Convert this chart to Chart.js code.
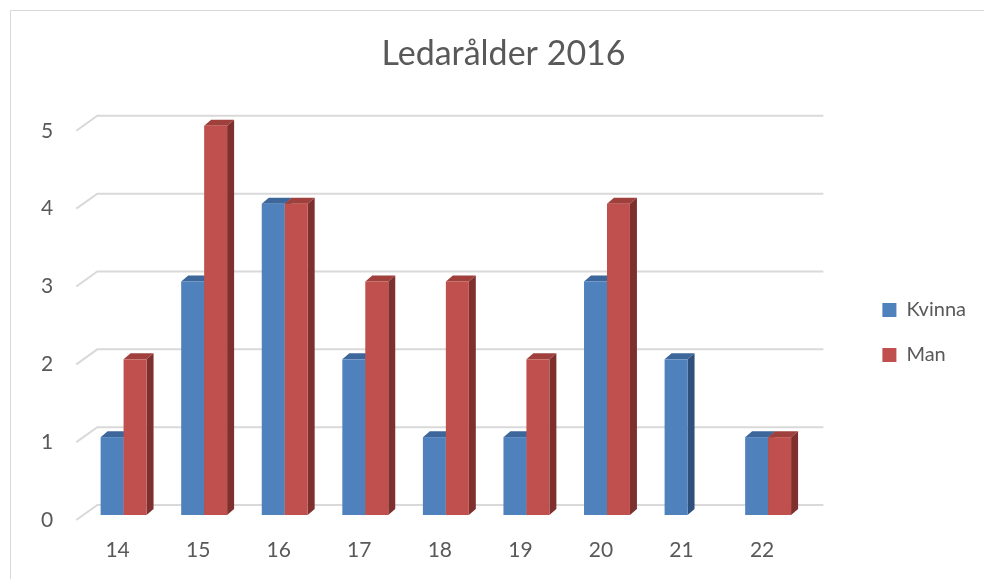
<!DOCTYPE html>
<html>
<head>
<meta charset="utf-8">
<script src="https://cdn.jsdelivr.net/npm/chart.js@4/dist/chart.umd.min.js"></script>
<style>
  html, body { margin: 0; padding: 0; background: #fff; }
</style>
</head>
<body>
<canvas id="chart" width="984" height="579"></canvas>
<script>
// data
const ages = ["14", "15", "16", "17", "18", "19", "20", "21", "22"];
const kvinna = [1, 3, 4, 2, 1, 1, 3, 2, 1];
const man = [2, 5, 4, 3, 3, 2, 4, null, 1];

// colors: front, top, side
const blue = ["#4f81bd", "#3d679b", "#2f507c"];
const red = ["#c0504d", "#a0403d", "#7e302e"];
const textColor = "#595959";
const font = "Lato, 'Open Sans', sans-serif";

// 3d offsets
const dx = 7, dy = -6;

function poly(ctx, pts) {
    ctx.beginPath();
    ctx.moveTo(pts[0][0], pts[0][1]);
    for (let k = 1; k < pts.length; k++) ctx.lineTo(pts[k][0], pts[k][1]);
    ctx.closePath();
    ctx.fill();
}

const threeD = {
    id: "threeD",
    beforeDraw(chart) {
        // outer frame like the excel chart box
        const ctx = chart.ctx;
        ctx.save();
        ctx.strokeStyle = "#d9d9d9";
        ctx.lineWidth = 1;
        ctx.strokeRect(10.5, 10.5, 1100, 1100);
        ctx.restore();
    },
    beforeDatasetsDraw(chart) {
        const ctx = chart.ctx;
        const area = chart.chartArea;
        const yScale = chart.scales.y;
        ctx.save();

        // back wall + side wall gridlines
        ctx.strokeStyle = "#d9d9d9";
        ctx.lineWidth = 2;
        yScale.ticks.forEach(t => {
            const py = yScale.getPixelForValue(t.value);
            ctx.beginPath();
            ctx.moveTo(area.left - 7, py + 5);
            ctx.lineTo(area.left + 14, py - 10);
            ctx.lineTo(area.right + 15, py - 10);
            ctx.stroke();
        });

        // bars, category by category so the faces overlap right
        const colors = [blue, red];
        for (let i = 0; i < ages.length; i++) {
            chart.data.datasets.forEach((ds, di) => {
                if (ds.data[i] == null) return;
                const bar = chart.getDatasetMeta(di).data[i];
                const p = bar.getProps(["x", "y", "base", "width"], true);
                const x0 = p.x - p.width / 2, x1 = p.x + p.width / 2;
                const c = colors[di];
                ctx.fillStyle = c[1];
                poly(ctx, [[x0, p.y], [x1, p.y], [x1 + dx, p.y + dy], [x0 + dx, p.y + dy]]);
                ctx.fillStyle = c[2];
                poly(ctx, [[x1, p.y], [x1 + dx, p.y + dy], [x1 + dx, p.base + dy], [x1, p.base]]);
                ctx.fillStyle = c[0];
                ctx.fillRect(x0, p.y, p.width, p.base - p.y);
            });
        }
        ctx.restore();
        return false;
    }
};

const ctx = document.getElementById("chart").getContext("2d");
new Chart(ctx, {
    type: "bar",
    data: {
        labels: ages,
        datasets: [
            { label: "Kvinna", data: kvinna, backgroundColor: blue[0], borderWidth: 0 },
            { label: "Man", data: man, backgroundColor: red[0], borderWidth: 0 },
        ],
    },
    options: {
        responsive: false,
        animation: false,
        devicePixelRatio: 1,
        categoryPercentage: 0.57,
        barPercentage: 1,
        layout: { padding: { left: 31, right: 8, top: 0, bottom: 0 } },
        plugins: {
            title: {
                display: true,
                text: "Ledarålder 2016",
                color: textColor,
                font: { family: font, size: 34, weight: "normal", lineHeight: 1.2 },
                padding: { top: 34, bottom: 51 },
            },
            legend: {
                position: "right",
                fullSize: false,
                title: { display: true, text: "", font: { size: 10, lineHeight: 1.2 }, padding: 6 },
                labels: {
                    color: textColor,
                    font: { family: font, size: 20 },
                    boxWidth: 14,
                    boxHeight: 14,
                    padding: 25,
                },
            },
            tooltip: { enabled: false },
        },
        scales: {
            x: {
                grid: { display: false, drawTicks: false },
                border: { display: false },
                ticks: {
                    color: textColor,
                    font: { family: font, size: 21 },
                    padding: 23,
                    labelOffset: -6,
                },
                afterFit: (s) => { s.height = 64; },
            },
            y: {
                min: 0,
                max: 5,
                grid: { display: false, drawTicks: false },
                border: { display: false },
                ticks: {
                    stepSize: 1,
                    color: textColor,
                    font: { family: font, size: 21 },
                    padding: 30,
                    labelOffset: 5,
                },
                afterFit: (s) => { s.width = 52.3; },
            },
            gap: {
                type: "linear",
                position: "right",
                grid: { display: false, drawTicks: false },
                border: { display: false },
                ticks: { display: false },
                afterFit: (s) => { s.width = 49; },
            },
        },
    },
    plugins: [threeD],
});
</script>
</body>
</html>
